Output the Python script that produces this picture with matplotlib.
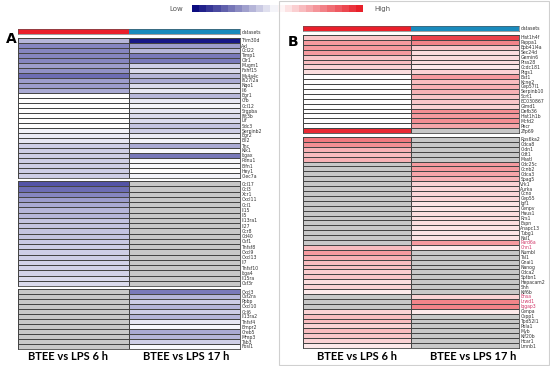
import numpy as np
import matplotlib
matplotlib.use('Agg')
import matplotlib.pyplot as plt
from matplotlib.colors import LinearSegmentedColormap, ListedColormap, Normalize
from matplotlib.cm import ScalarMappable
from matplotlib.patches import Rectangle

nan = np.nan

# ---- panel A data (negative = low / blue) ----
a1_genes = ["Trim30d", "Axl", "Ccl22", "Timp1", "Olr1", "Mugm1", "Fxhf15", "Ms4a4c",
            "Ifi27l2a", "Nqo1", "Il6", "Egr1", "Cfb", "Ccl12", "Srgpba", "Ifit3b", "Lif",
            "Sdc3", "Serpinb2", "Egr2", "Ell2", "Tnc", "Klk1", "Itgax", "Pdnu1", "Elfn1",
            "Hey1", "Clec7a"]
a1_6h = [-0.3, -0.5, -0.5, -0.5, -0.5, -0.4, -0.45, -0.6, -0.4, -0.4, -0.35, 0, 0, 0,
         0, 0, 0, 0, -0.05, -0.08, -0.1, -0.2, -0.2, -0.2, -0.2, -0.2, -0.2, -0.2]
a1_17h = [-0.95, -0.4, -0.3, -0.55, -0.55, -0.2, -0.15, -0.3, -0.35, -0.15, -0.1, -0.3,
          -0.1, -0.05, -0.1, -0.15, -0.15, -0.25, -0.2, -0.08, -0.05, -0.35, -0.03,
          -0.55, -0.03, -0.03, 0, -0.05]

a2_genes = ["Ccl17", "Ccl3", "Xcr1", "Cxcl11", "Ccl1", "Il15", "Il5", "Il13ra1", "Il27",
            "Ccr8", "Cd40", "Csf1", "Tnfsf8", "Cxcl9", "Cxcl13", "Il7", "Tnfsf10", "Itga4",
            "Il15ra", "Csf3r"]
a2_6h = [-0.7, -0.6, -0.5, -0.4, -0.35, -0.3, -0.3, -0.25, -0.25, -0.25, -0.25, -0.22,
         -0.2, -0.2, -0.2, -0.18, -0.18, -0.18, -0.15, -0.15]
a2_17h = [nan] * 20

a3_genes = ["Cxcl3", "Csf2ra", "Ppbp", "Cxcl10", "Ccl6", "Il13ra2", "Tnfsf4", "Bmpr2",
            "Creb5", "Mmp3", "Tab3", "Fosl1"]
a3_6h = [nan] * 12
a3_17h = [-0.55, -0.3, -0.2, -0.3, -0.2, -0.3, -0.1, -0.03, -0.35, -0.3, -0.2, -0.03]

# ---- panel B data (positive = high / red) ----
b1_genes = ["Hist1h4f", "Pappa1", "Epb41l4a", "Sec24d", "Gemin6", "Prss28", "Ccdc181",
            "Ptgs1", "Bst1", "Kcne2", "Cep57l1", "Serpinb10", "Scrt1", "BC030867",
            "Gimd1", "Defb36", "Hist1h1b", "Mcfd2", "Pecr", "Zfp69"]
b1_6h = [0.25, 0.45, 0.45, 0.45, 0.25, 0.3, 0.2, 0.15, 0, 0, 0, 0, 0, 0, 0, 0, 0, 0, 0, 0.95]
b1_17h = [0.85, 0.55, 0.25, 0.15, 0.15, 0.15, 0.1, 0.2, 0.45, 0.3, 0.35, 0.35, 0.25,
          0.25, 0.2, 0.5, 0.45, 0.5, 0.4, nan]

b2_genes = ["Rps6ka2", "Cdca8", "Cldn1", "Cdt1", "Mastl", "Cdc25c", "Ccnb2", "Cdca3",
            "Spag5", "Vrk1", "Aurka", "Ccno", "Cep55", "Igf1", "Cenpv", "Haus1", "Rrs1",
            "Espn", "Anapc13", "Tubg1", "Nsl1", "Pard6a", "Cnn1", "Numbl", "Tal1", "Gnai1",
            "Nanog", "Cdca2", "Sptbn1", "Hepacam2", "Shh", "Kif6b", "Ensa", "Lrwd1",
            "Iqgap3", "Cenpa", "Cspp1", "Tpd52l1", "Pola1", "Myb", "Kif20b", "Hcar1",
            "Lmnb1"]
b2_6h = [0.6, 0.5, 0.35, 0.3, 0.35] + [nan] * 17 + [0.3, 0.45, 0.35, 0.3, 0.28, 0.22,
         0.25, 0.15, 0.2, 0.1, nan, nan, nan, 0.2, 0.3, 0.3, 0.2, 0.3, 0.25, 0.2, 0.1]
b2_17h = [nan] * 5 + [0.45, 0.45, 0.4, 0.35, 0.2, 0.18, 0.18, 0.18, 0.12, 0.12, 0.15,
          0.15, 0.15, 0.12, 0.12, 0.12, 0.45, 0.1] + [nan] * 9 + [0.2, 0.55, 0.55, 0.1] \
         + [nan] * 7
b2_pink_labels = ["Pard6a", "Cnn1", "Ensa", "Lrwd1", "Iqgap3"]

col_labels = ["BTEE vs LPS 6 h", "BTEE vs LPS 17 h"]

cmap = LinearSegmentedColormap.from_list("lowhigh", ["#0c0c80", "#ffffff", "#e8202a"])
cmap.set_bad("#c8c8c8")
norm = Normalize(-1, 1)

W, H = 550, 366
fig = plt.figure(figsize=(5.5, 3.66), dpi=100)


def rect(x0, y0, x1, y1):
    return [x0 / W, 1 - y1 / H, (x1 - x0) / W, (y1 - y0) / H]


def block(x0, x1, y0, y1, genes, v6, v17, pink=()):
    ax = fig.add_axes(rect(x0, y0, x1, y1))
    data = np.ma.masked_invalid(np.array([v6, v17], dtype=float).T)
    ax.pcolormesh(data, cmap=cmap, norm=norm, edgecolors="#454545", linewidth=0.45)
    ax.set_xlim(0, 2)
    ax.set_ylim(len(genes), 0)
    ax.set_xticks([])
    ax.yaxis.tick_right()
    ax.set_yticks(np.arange(len(genes)) + 0.5)
    ax.set_yticklabels(genes, fontsize=3.3, color="#333333")
    ax.tick_params(axis="y", length=0, pad=1)
    for t in ax.get_yticklabels():
        if t.get_text() in pink:
            t.set_color("#d2386a")
    for s in ax.spines.values():
        s.set_linewidth(0.6)
        s.set_color("#454545")
    return ax


def datasets_bar(x0, x1, y0, y1):
    ax = fig.add_axes(rect(x0, y0, x1, y1))
    ax.pcolormesh([[0, 1]], cmap=ListedColormap(["#ea1f2b", "#1a8bbd"]), vmin=0, vmax=1)
    ax.set_xticks([])
    ax.yaxis.tick_right()
    ax.set_yticks([0.5])
    ax.set_yticklabels(["datasets"], fontsize=3.3, color="#333333")
    ax.tick_params(axis="y", length=0, pad=1)
    for s in ax.spines.values():
        s.set_linewidth(0.4)
        s.set_color("#555555")


# panel B frame
fig.patches.append(Rectangle((279 / W, 1 / H), 270 / W, 364 / H, transform=fig.transFigure,
                             fill=False, edgecolor="#d0d0d0", linewidth=0.8))

# panel A
datasets_bar(18, 240, 29, 34)
block(18, 240, 38, 178, a1_genes, a1_6h, a1_17h)
block(18, 240, 181, 286, a2_genes, a2_6h, a2_17h)
block(18, 240, 289, 349, a3_genes, a3_6h, a3_17h)
fig.text(6 / W, 1 - 39 / H, "A", fontsize=10, fontweight="bold", va="center")
fig.text(68 / W, 1 - 357 / H, col_labels[0], fontsize=8, fontweight="bold",
         family="Lato", ha="center", va="center")
fig.text(186 / W, 1 - 357 / H, col_labels[1], fontsize=8, fontweight="bold",
         family="Lato", ha="center", va="center")

# panel B
datasets_bar(303, 519, 26, 31)
block(303, 519, 35, 133, b1_genes, b1_6h, b1_17h)
block(303, 519, 137, 348, b2_genes, b2_6h, b2_17h, pink=b2_pink_labels)
fig.text(288 / W, 1 - 42 / H, "B", fontsize=10, fontweight="bold", va="center")
fig.text(357 / W, 1 - 356 / H, col_labels[0], fontsize=8, fontweight="bold",
         family="Lato", ha="center", va="center")
fig.text(473 / W, 1 - 356 / H, col_labels[1], fontsize=8, fontweight="bold",
         family="Lato", ha="center", va="center")

# colour key
cax = fig.add_axes(rect(192, 5, 363, 12))
sm = ScalarMappable(norm=norm, cmap=cmap.resampled(24))
cb = fig.colorbar(sm, cax=cax, orientation="horizontal")
cb.set_ticks([])
cb.outline.set_visible(False)
fig.text(183 / W, 1 - 9 / H, "Low", fontsize=5, color="#555555", ha="right", va="center")
fig.text(374 / W, 1 - 9 / H, "High", fontsize=5, color="#555555", ha="left", va="center")

fig.savefig("out.png", dpi=100)
